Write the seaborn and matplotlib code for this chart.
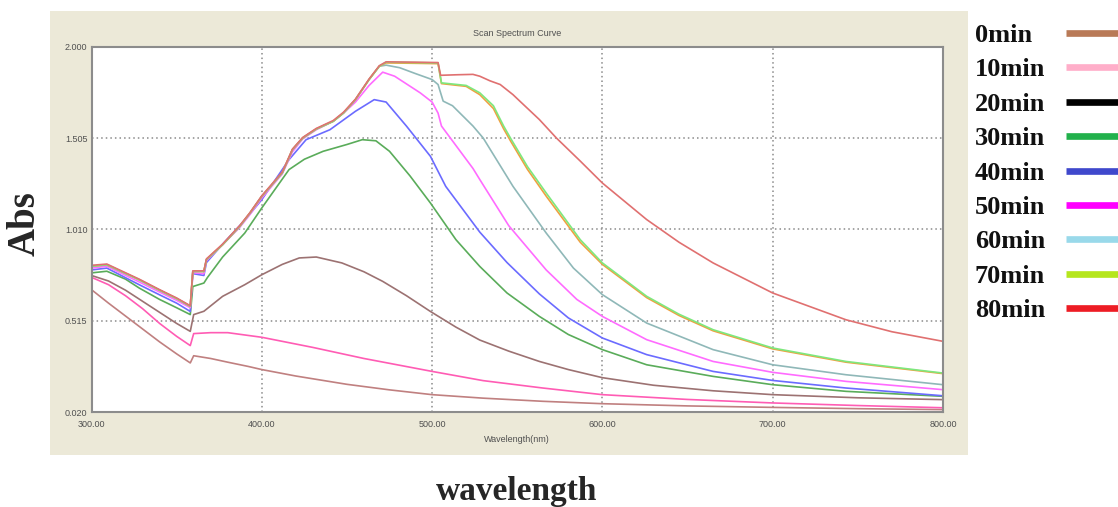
import numpy as np
import pandas as pd
import matplotlib
matplotlib.use("Agg")
import matplotlib.pyplot as plt
from matplotlib.patches import Rectangle
from matplotlib.lines import Line2D
import seaborn as sns

# ---------------- data ----------------
legend_labels = ["0min", "10min", "20min", "30min", "40min", "50min", "60min", "70min", "80min"]
legend_colors = ["#b97a57", "#ffaec9", "#000000", "#22b14c", "#3f48cc", "#ff00ff", "#99d9ea", "#b5e61d", "#ed1c24"]

x_ticks = [300, 400, 500, 600, 700, 800]
x_tick_labels = ["300.00", "400.00", "500.00", "600.00", "700.00", "800.00"]
y_ticks = [0.020, 0.515, 1.010, 1.505, 2.000]
y_tick_labels = ["0.020", "0.515", "1.010", "1.505", "2.000"]

wl_0 = [300, 310, 320, 330, 340, 350, 358, 360, 370, 380, 392, 400, 420, 450, 475, 500, 530, 565, 600, 650, 700, 750, 800]
abs_0 = [0.683, 0.61, 0.54, 0.47, 0.40, 0.335, 0.286, 0.325, 0.31, 0.29, 0.267, 0.25, 0.215, 0.17, 0.14, 0.114, 0.095, 0.078, 0.065, 0.053, 0.045, 0.038, 0.033]

wl_10 = [300, 310, 320, 330, 340, 350, 358, 360, 370, 380, 400, 430, 460, 500, 530, 565, 600, 650, 700, 750, 800]
abs_10 = [0.75, 0.71, 0.65, 0.58, 0.50, 0.43, 0.38, 0.445, 0.45, 0.45, 0.425, 0.37, 0.31, 0.24, 0.19, 0.15, 0.114, 0.088, 0.069, 0.055, 0.043]

wl_20 = [300, 310, 320, 330, 340, 350, 358, 360, 366, 377, 390, 400, 412, 422, 432, 447, 460, 471, 485, 499, 514, 528, 545, 563, 580, 600, 630, 665, 700, 750, 800]
abs_20 = [0.76, 0.73, 0.68, 0.62, 0.56, 0.50, 0.457, 0.548, 0.566, 0.647, 0.71, 0.764, 0.82, 0.855, 0.86, 0.828, 0.78, 0.728, 0.65, 0.565, 0.48, 0.41, 0.35, 0.294, 0.25, 0.206, 0.165, 0.135, 0.114, 0.097, 0.087]

wl_30 = [300, 309, 320, 328, 340, 350, 358, 359.5, 366, 368, 377, 390, 400, 416, 425, 436, 450, 459, 467, 475, 487, 499, 514, 528, 544, 563, 580, 600, 626, 665, 700, 743, 800]
abs_30 = [0.774, 0.783, 0.74, 0.692, 0.63, 0.585, 0.548, 0.70, 0.719, 0.748, 0.86, 0.99, 1.126, 1.334, 1.39, 1.433, 1.47, 1.496, 1.49, 1.433, 1.30, 1.153, 0.954, 0.809, 0.665, 0.538, 0.44, 0.358, 0.276, 0.213, 0.168, 0.132, 0.105]

wl_40 = [300, 309, 328, 340, 350, 358, 359.5, 366, 367.5, 377, 390, 400, 416, 426, 440, 455, 466, 473, 485, 499, 508, 528, 544, 563, 580, 600, 626, 665, 700, 743, 800]
abs_40 = [0.79, 0.80, 0.71, 0.655, 0.61, 0.565, 0.77, 0.76, 0.83, 0.93, 1.06, 1.171, 1.388, 1.496, 1.55, 1.65, 1.713, 1.70, 1.569, 1.406, 1.243, 0.995, 0.83, 0.66, 0.53, 0.421, 0.331, 0.24, 0.191, 0.15, 0.108]

wl_50 = [300, 309, 328, 340, 350, 358, 359.5, 366, 367.5, 377, 387, 393, 400, 412, 418, 424, 432, 442, 448, 455, 463, 471, 478, 493, 500, 503.5, 505.5, 510, 524, 528, 545, 567, 585, 600, 626, 665, 700, 743, 800]
abs_50 = [0.80, 0.81, 0.725, 0.67, 0.625, 0.585, 0.775, 0.77, 0.84, 0.927, 1.02, 1.09, 1.18, 1.31, 1.43, 1.50, 1.55, 1.596, 1.64, 1.70, 1.79, 1.862, 1.84, 1.75, 1.70, 1.64, 1.57, 1.514, 1.34, 1.28, 1.03, 0.79, 0.63, 0.538, 0.412, 0.294, 0.235, 0.186, 0.141]

wl_60 = [300, 309, 328, 340, 350, 358, 359.5, 366, 367.5, 377, 387, 393, 400, 412, 418, 424, 432, 442, 448, 455, 463, 469, 473, 481, 490, 500, 503.5, 506.5, 512, 524, 530, 547.5, 567, 583, 600, 626, 665, 700, 743, 800]
abs_60 = [0.81, 0.818, 0.737, 0.68, 0.635, 0.593, 0.782, 0.782, 0.846, 0.927, 1.026, 1.098, 1.189, 1.316, 1.442, 1.505, 1.554, 1.596, 1.641, 1.713, 1.822, 1.894, 1.90, 1.886, 1.855, 1.822, 1.795, 1.705, 1.68, 1.57, 1.505, 1.243, 0.99, 0.80, 0.656, 0.502, 0.358, 0.276, 0.222, 0.168]

wl_70 = [300, 309, 328, 340, 350, 358, 359.5, 366, 367.5, 377, 387, 393, 400, 412, 418, 424, 432, 442, 448, 455, 463, 469, 473, 490, 503.5, 505.5, 520, 528, 536, 542, 546, 556, 567, 587, 600, 626, 645, 665, 700, 743, 800]
abs_70 = [0.81, 0.818, 0.737, 0.68, 0.635, 0.593, 0.782, 0.782, 0.846, 0.927, 1.026, 1.098, 1.189, 1.316, 1.442, 1.505, 1.554, 1.596, 1.641, 1.713, 1.822, 1.894, 1.916, 1.914, 1.912, 1.804, 1.79, 1.75, 1.68, 1.57, 1.505, 1.35, 1.207, 0.954, 0.828, 0.647, 0.55, 0.466, 0.367, 0.294, 0.231]

# second trace overlapping the 70 min curve (orange in the screenshot)
wl_extra = [300, 309, 328, 340, 350, 358, 359.5, 366, 367.5, 377, 387, 393, 400, 412, 418, 424, 432, 442, 448, 455, 463, 469, 473, 490, 503.5, 505.5, 520, 528, 536, 542, 546, 556, 567, 587, 600, 626, 645, 665, 700, 743, 800]
abs_extra = [0.81, 0.818, 0.737, 0.68, 0.635, 0.593, 0.782, 0.782, 0.846, 0.927, 1.026, 1.098, 1.189, 1.316, 1.442, 1.505, 1.554, 1.596, 1.641, 1.713, 1.822, 1.894, 1.912, 1.91, 1.908, 1.80, 1.785, 1.74, 1.665, 1.555, 1.49, 1.335, 1.19, 0.94, 0.82, 0.64, 0.543, 0.46, 0.362, 0.29, 0.228]

wl_80 = [300, 309, 328, 340, 350, 358, 359.5, 366, 367.5, 377, 387, 393, 400, 412, 418, 424, 432, 442, 448, 455, 463, 469, 473, 490, 503.5, 505, 515, 524, 528, 534, 540, 547.5, 551.5, 563, 573, 587, 600, 626, 645, 665, 700, 743, 770, 800]
abs_80 = [0.815, 0.822, 0.74, 0.683, 0.638, 0.596, 0.785, 0.785, 0.85, 0.93, 1.03, 1.10, 1.192, 1.32, 1.445, 1.508, 1.557, 1.6, 1.645, 1.716, 1.825, 1.897, 1.918, 1.916, 1.914, 1.845, 1.848, 1.85, 1.84, 1.815, 1.795, 1.74, 1.705, 1.605, 1.505, 1.38, 1.261, 1.063, 0.94, 0.828, 0.665, 0.52, 0.455, 0.403]

trace_names = ["0min", "10min", "20min", "30min", "40min", "50min", "60min", "extra", "70min", "80min"]
trace_wl = [wl_0, wl_10, wl_20, wl_30, wl_40, wl_50, wl_60, wl_extra, wl_70, wl_80]
trace_abs = [abs_0, abs_10, abs_20, abs_30, abs_40, abs_50, abs_60, abs_extra, abs_70, abs_80]
trace_colors = ["#c08080", "#ff5cb4", "#9c7272", "#5aac5a", "#6b6bff", "#ff6bff", "#8fb8b8", "#f0a040", "#7ee87e", "#e07070"]

frames = []
for name, w, a in zip(trace_names, trace_wl, trace_abs):
    frames.append(pd.DataFrame({"wl": w, "abs": a, "trace": name}))
df = pd.concat(frames, ignore_index=True)

# ---------------- figure ----------------
sns.set_style("white")
plt.rcParams["font.family"] = ["Liberation Sans", "DejaVu Sans"]

W, H = 1118, 507
fig = plt.figure(figsize=(W / 100, H / 100), dpi=100)
fig.patch.set_facecolor("white")

# beige window panel
fig.patches.append(Rectangle((50 / W, 1 - 455 / H), 918 / W, 444 / H,
                             transform=fig.transFigure, facecolor="#ece9d8",
                             edgecolor="none", zorder=-5))

ax_l, ax_r, ax_t, ax_b = 91.5, 943, 46.7, 412
ax = fig.add_axes([ax_l / W, 1 - ax_b / H, (ax_r - ax_l) / W, (ax_b - ax_t) / H])
ax.set_facecolor("white")

sns.lineplot(data=df, x="wl", y="abs", hue="trace", hue_order=trace_names,
             palette=dict(zip(trace_names, trace_colors)), legend=False,
             linewidth=1.2, ax=ax, estimator=None, sort=False)

ax.set_xlim(300, 800)
ax.set_ylim(0.020, 2.000)
ax.set_xticks(x_ticks)
ax.set_xticklabels(x_tick_labels)
ax.set_yticks(y_ticks)
ax.set_yticklabels(y_tick_labels)
ax.tick_params(axis="both", length=0, labelsize=6.5, labelcolor="#505050")
ax.tick_params(axis="x", pad=6)
ax.tick_params(axis="y", pad=3)
ax.grid(True, color="#8a8a8a", linestyle=(0, (1, 2)), linewidth=1.1)
ax.set_axisbelow(True)
for s in ax.spines.values():
    s.set_color("#8c8c8c")
    s.set_linewidth(1.5)

ax.set_xlabel("Wavelength(nm)", fontsize=6.5, color="#505050", labelpad=4)
ax.set_ylabel("")
ax.set_title("Scan Spectrum Curve", fontsize=6.5, color="#505050", pad=8)

serif = ["Liberation Serif", "DejaVu Serif"]
# big axis captions
fig.text(25 / W, 1 - 224 / H, "Abs", rotation=90, ha="center", va="center",
         fontsize=28, fontweight="bold", family=serif)
fig.text(517 / W, 1 - 500 / H, "wavelength", ha="center", va="baseline",
         fontsize=24, fontweight="bold", family=serif)

# legend on the right: left-aligned labels, colour swatch lines to the right
row0, pitch = 33.0, 34.4
for i, (lab, col) in enumerate(zip(legend_labels, legend_colors)):
    yc = 1 - (row0 + i * pitch) / H
    fig.text(975 / W, yc, lab, ha="left", va="center_baseline", fontsize=19,
             fontweight="bold", family=serif, color="#111111")
    fig.add_artist(Line2D([1066 / W, 1.01], [yc, yc], transform=fig.transFigure,
                          color=col, linewidth=4.8, solid_capstyle="butt"))

fig.savefig("out.png", dpi=100)
